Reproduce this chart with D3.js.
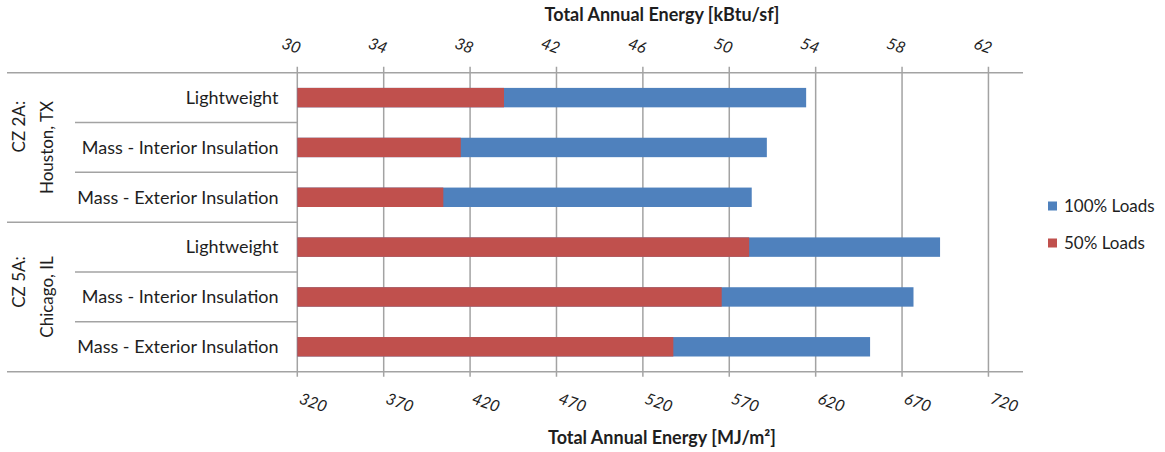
<!DOCTYPE html>
<html><head><meta charset="utf-8">
<script src="https://cdn.jsdelivr.net/npm/d3@7"></script>
<style>
html,body{margin:0;padding:0;background:#fff;}
svg{display:block;font-family:Lato,"Open Sans",sans-serif;}
</style></head>
<body>
<svg id="chart" width="1165" height="452"></svg>
<script>
// ---- data ----
const categories = ["Lightweight","Mass - Interior Insulation","Mass - Exterior Insulation",
                    "Lightweight","Mass - Interior Insulation","Mass - Exterior Insulation"];
const categoryGroup = [0,0,0,1,1,1];
const groupLine1 = ["CZ 2A:","CZ 5A:"];
const groupLine2 = ["Houston, TX","Chicago, IL"];
const loads100 = [53.56, 51.74, 51.04, 59.76, 58.53, 56.52]; // kBtu/sf
const loads50  = [39.57, 37.57, 36.76, 50.92, 49.65, 47.41]; // kBtu/sf
const seriesNames = ["100% Loads","50% Loads"];
const topTicks = [30,34,38,42,46,50,54,58,62];
const bottomTicks = [320,370,420,470,520,570,620,670,720];
const topTitle = "Total Annual Energy [kBtu/sf]";
const bottomTitle = "Total Annual Energy [MJ/m²]";

const colors = {"100% Loads":"#4F81BD","50% Loads":"#C0504D"};
const gridColor = "#a3a3a3";
const textColor = "#1e1e1e";

const svg = d3.select("#chart");
const plotLeft = 297.3, plotRight = 1023, plotTop = 72.7, plotBottom = 371.7;

const x = d3.scaleLinear().domain([30, 63.6]).range([plotLeft, plotRight]);
const xMJ = d3.scaleLinear().domain([320, 720]).range([x(30), x(62)]);
const y = d3.scaleBand().domain(d3.range(categories.length)).range([plotTop, plotBottom]).padding(0);
const barH = y.bandwidth()*0.39;

// gridlines
svg.append("g").selectAll("line").data(topTicks).join("line")
  .attr("x1", d=>x(d)).attr("x2", d=>x(d))
  .attr("y1", plotTop-6).attr("y2", plotBottom+5)
  .attr("stroke", gridColor).attr("stroke-width", 1.5);

// horizontal axis lines (full width)
[plotTop, plotBottom].forEach(yy=>{
  svg.append("line").attr("x1",7).attr("x2",plotRight).attr("y1",yy).attr("y2",yy)
    .attr("stroke",gridColor).attr("stroke-width",1.5);
});
// group divider
svg.append("line").attr("x1",7).attr("x2",plotLeft).attr("y1",y(3)).attr("y2",y(3))
  .attr("stroke",gridColor).attr("stroke-width",1.5);
// category dividers
svg.append("g").selectAll("line").data([1,2,4,5]).join("line")
  .attr("x1",75).attr("x2",plotLeft).attr("y1",d=>y(d)).attr("y2",d=>y(d))
  .attr("stroke",gridColor).attr("stroke-width",1.5);

// bars: 100% behind, 50% in front
const bars = svg.append("g");
bars.selectAll("rect.b100").data(loads100).join("rect").attr("class","b100")
  .attr("x", x(30)).attr("y",(d,i)=>y(i)+y.bandwidth()/2-barH/2)
  .attr("width", d=>x(d)-x(30)).attr("height", barH)
  .attr("fill", colors["100% Loads"]);
bars.selectAll("rect.b50").data(loads50).join("rect").attr("class","b50")
  .attr("x", x(30)).attr("y",(d,i)=>y(i)+y.bandwidth()/2-barH/2)
  .attr("width", d=>x(d)-x(30)).attr("height", barH)
  .attr("fill", colors["50% Loads"]);

// category labels
svg.append("g").selectAll("text").data(categories).join("text")
  .attr("x", 278.5).attr("y",(d,i)=>y(i)+y.bandwidth()/2)
  .attr("dy","0.35em").attr("text-anchor","end")
  .attr("font-size",18).attr("fill",textColor).text(d=>d);

// group labels (rotated)
groupLine1.forEach((g,gi)=>{
  const idx = categoryGroup.map((c,i)=>c===gi?i:-1).filter(i=>i>=0);
  const y0 = y(idx[0]), y1 = y(idx[idx.length-1])+y.bandwidth();
  const cy = (y0+y1)/2;
  const t2 = svg.append("text").attr("transform",`translate(53,${cy}) rotate(-90)`)
    .attr("text-anchor","middle").attr("font-size",17).attr("fill",textColor).text(groupLine2[gi]);
  const w2 = t2.node().getComputedTextLength();
  svg.append("text").attr("transform",`translate(25,${cy - w2/2}) rotate(-90)`)
    .attr("text-anchor","end").attr("font-size",17).attr("fill",textColor).text(g);
});

// top tick labels
svg.append("g").selectAll("text").data(topTicks).join("text")
  .attr("transform", d=>`translate(${x(d)+1},54) rotate(20)`)
  .attr("text-anchor","end").attr("font-size",16).attr("font-style","italic")
  .attr("fill",textColor).text(d=>d);

// bottom ticks & labels
svg.append("g").selectAll("text").data(bottomTicks).join("text")
  .attr("transform", d=>`translate(${xMJ(d)+1},403) rotate(20)`)
  .attr("text-anchor","start").attr("font-size",16).attr("font-style","italic")
  .attr("fill",textColor).text(d=>d);

// titles
svg.append("text").attr("x",662).attr("y",21).attr("text-anchor","middle")
  .attr("font-size",18).attr("font-weight","bold").attr("fill",textColor).text(topTitle);
svg.append("text").attr("x",662).attr("y",444).attr("text-anchor","middle")
  .attr("font-size",18).attr("font-weight","bold").attr("fill",textColor).text(bottomTitle);

// legend
const leg = svg.append("g");
seriesNames.forEach((s,i)=>{
  const ly = 206 + i*37;
  leg.append("rect").attr("x",1048).attr("y",ly-4.5).attr("width",9).attr("height",9).attr("fill",colors[s]);
  leg.append("text").attr("x",1064).attr("y",ly).attr("dy","0.35em")
    .attr("font-size",17).attr("fill",textColor).text(s);
});
</script>
</body></html>
